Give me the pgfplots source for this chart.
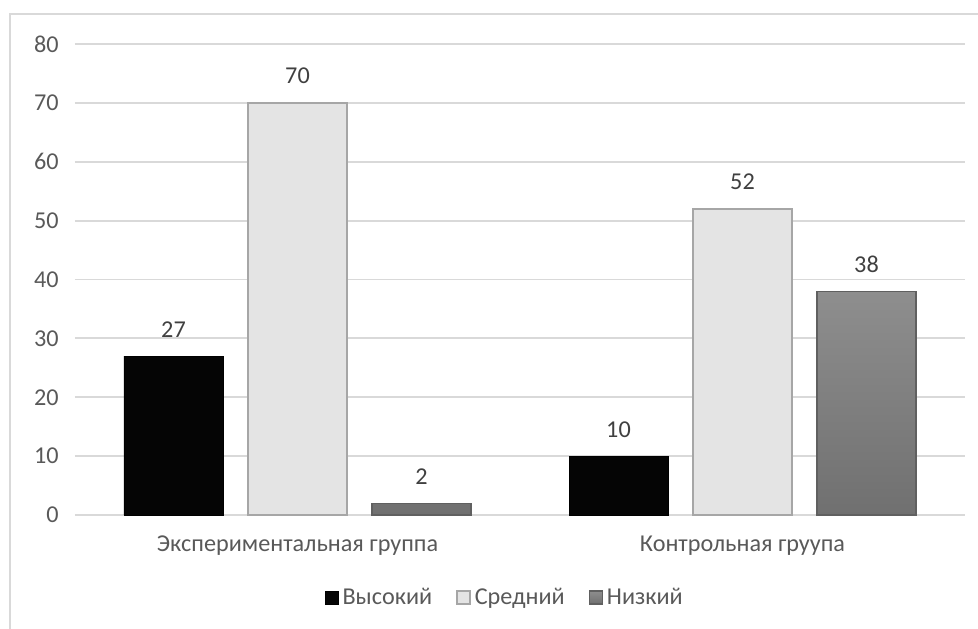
\documentclass[border=0pt]{standalone}
\usepackage{fontspec}
\setmainfont{Carlito}
\usepackage{pgfplots}
\pgfplotsset{compat=1.18}
\definecolor{txt}{HTML}{595959}
\definecolor{gridc}{HTML}{D9D9D9}
\definecolor{lbl}{HTML}{404040}
\definecolor{hi}{HTML}{050505}
\definecolor{mid}{HTML}{E4E4E4}
\definecolor{midb}{HTML}{A6A6A6}
\definecolor{lowt}{HTML}{8E8E8E}
\definecolor{lowbt}{HTML}{707070}
\definecolor{lowb}{HTML}{606060}
\begin{document}
\fontsize{12.1}{14.5}\selectfont
\begin{tikzpicture}
\path[use as bounding box] (-37.5pt,-56.5pt) rectangle (451.5pt,257.5pt);
\draw[gridc, line width=0.9pt] (-32.5pt,-80pt) rectangle (480pt,250.5pt);
\begin{axis}[
  at={(0,0)}, anchor=south west,
  scale only axis, width=445pt, height=235.5pt,
  ymin=0, ymax=80, ytick={0,10,...,80},
  xmin=-0.5, xmax=1.5, xtick={0,1},
  xticklabels={Экспериментальная группа, Контрольная груупа},
  axis line style={draw=none}, major tick length=0pt,
  ymajorgrids, grid style={gridc, line width=0.9pt},
  ybar=12.5pt, bar width=49.5pt,
  tick label style={txt, font=\fontsize{12.1}{14.5}\selectfont},
  yticklabel style={xshift=-4pt},
  xticklabel style={yshift=-6pt},
  /pgf/number format/assume math mode=true,
  nodes near coords,
  nodes near coords style={lbl, font=\fontsize{12.1}{14.5}\selectfont, anchor=south, yshift=5pt},
  legend style={at={(rel axis cs:0.484,-0.176)}, anchor=center, draw=none, fill=none,
    legend columns=3, font=\fontsize{12.1}{14.5}\selectfont, text=txt,
    /tikz/every even column/.append style={column sep=10pt}},
  legend image code/.code={\draw[#1] (0pt,-3pt) rectangle (6.5pt,3.5pt);},
  legend cell align=left,
]
\addplot[fill=hi, draw=black, line width=0.4pt] coordinates {(0,27) (1,10)};
\addplot[fill=mid, draw=midb, line width=0.8pt] coordinates {(0,70) (1,52)};
\addplot[top color=lowt, bottom color=lowbt, draw=lowb, line width=0.6pt] coordinates {(0,2) (1,38)};
\legend{Высокий, Средний, Низкий}
\end{axis}
\end{tikzpicture}
\end{document}
